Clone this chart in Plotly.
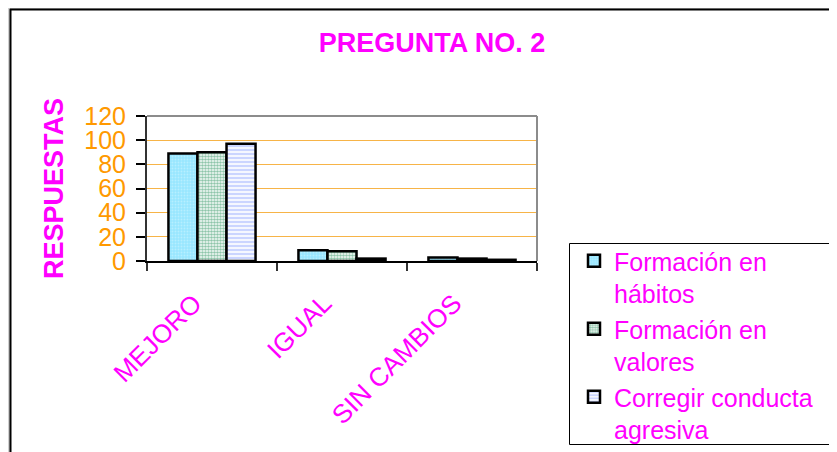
import plotly.graph_objects as go

categories = ["MEJORO", "IGUAL", "SIN CAMBIOS"]
series_names = ["Formación en<br>hábitos", "Formación en<br>valores", "Corregir conducta<br>agresiva"]
habitos = [89, 9, 3]
valores = [90, 8, 2]
agresiva = [97, 2, 1]
y_ticks = [0, 20, 40, 60, 80, 100, 120]

MAG = "#FF00FF"
ORANGE = "#FF9900"
FONT = "Liberation Sans, Arial, sans-serif"

W, H = 837, 452
OFF = 8  # page body margin offset
L, R, T, B = 147, 537, 116, 261  # target plot area in screenshot px

def px2x(px):
    return (px - L) / (R - L)

def py2y(py):
    return (B - py) / (B - T)

fig = go.Figure()
styles = [
    dict(color="#A6ECFF", pattern=dict(shape=".", fgcolor="#D6F7FF", bgcolor="#98E6FF", size=3, solidity=0.3)),
    dict(color="#FFFFFF", pattern=dict(shape=".", fgcolor="#1E8C55", bgcolor="#FFFFFF", size=3, solidity=0.6)),
    dict(color="#FFFFFF", pattern=dict(shape="-", fgcolor="#98ABFF", bgcolor="#FFFFFF", size=4, solidity=0.6)),
]
for name, vals, st in zip(series_names, [habitos, valores, agresiva], styles):
    fig.add_trace(go.Bar(
        x=categories, y=vals, name=name,
        marker=dict(color=st["color"], pattern=st["pattern"], line=dict(color="black", width=2.5)),
    ))

fig.update_layout(
    width=W, height=H, autosize=False,
    margin=dict(l=L - OFF, r=W - (R - OFF), t=T - OFF, b=H - (B - OFF), pad=0),
    paper_bgcolor="white", plot_bgcolor="white",
    barmode="group", bargap=0.33, bargroupgap=0,
    font=dict(family=FONT, color=MAG),
    title=dict(text="<b>PREGUNTA NO. 2</b>", x=(432 - OFF) / W, xanchor="center",
               y=1 - (43 - OFF) / H, yanchor="middle", yref="container",
               font=dict(family=FONT, size=27, color=MAG)),
    legend=dict(
        xref="container", yref="container",
        x=(574 - OFF) / W, xanchor="left", y=1 - (238 - OFF) / H, yanchor="top",
        borderwidth=0, bgcolor="rgba(0,0,0,0)",
        font=dict(family=FONT, size=25, color=MAG),
        tracegroupgap=0, itemwidth=30, valign="top",
    ),
    showlegend=True,
)

fig.update_yaxes(
    range=[0, 120], tickvals=y_ticks, ticktext=[str(v) for v in y_ticks],
    showgrid=True, gridcolor="#F7B447", gridwidth=1,
    showline=True, linecolor="#333333", linewidth=2,
    ticks="outside", ticklen=9, tickcolor="black", tickwidth=1.5,
    ticklabelstandoff=5,
    tickfont=dict(family=FONT, size=25, color=ORANGE),
    title=dict(text="<b>RESPUESTAS</b>", font=dict(family=FONT, size=27, color=MAG), standoff=13),
    zeroline=False,
)
fig.update_xaxes(
    showline=True, linecolor="black", linewidth=1.5,
    ticks="outside", tickson="boundaries", ticklen=8, tickcolor="#333333", tickwidth=1.5,
    ticklabelstandoff=15, ticklabelshift=-18,
    tickangle=-45, tickfont=dict(family=FONT, size=26, color=MAG),
)

# plot-area border (gray, top and right)
fig.add_shape(type="line", xref="paper", yref="paper", x0=0, x1=1, y0=1, y1=1,
              line=dict(color="#8C8C8C", width=2))
fig.add_shape(type="line", xref="paper", yref="paper", x0=1, x1=1, y0=0, y1=1,
              line=dict(color="#8C8C8C", width=2))

# legend box
fig.add_shape(type="rect", xref="paper", yref="paper",
              x0=px2x(569.5), x1=px2x(860), y0=py2y(243.5), y1=py2y(444.5),
              line=dict(color="black", width=1), fillcolor="rgba(0,0,0,0)")

# outer chart frame (top and left edges visible)
fig.add_shape(type="line", xref="paper", yref="paper", x0=px2x(9), x1=px2x(860), y0=py2y(8), y1=py2y(8),
              line=dict(color="#A0A0A0", width=1))
fig.add_shape(type="line", xref="paper", yref="paper", x0=px2x(9), x1=px2x(9), y0=py2y(8), y1=py2y(470),
              line=dict(color="#A0A0A0", width=1))
fig.add_shape(type="line", xref="paper", yref="paper", x0=px2x(10), x1=px2x(860), y0=py2y(9.5), y1=py2y(9.5),
              line=dict(color="black", width=2))
fig.add_shape(type="line", xref="paper", yref="paper", x0=px2x(10.5), x1=px2x(10.5), y0=py2y(9), y1=py2y(470),
              line=dict(color="black", width=2))

fig.write_html("out.html")
